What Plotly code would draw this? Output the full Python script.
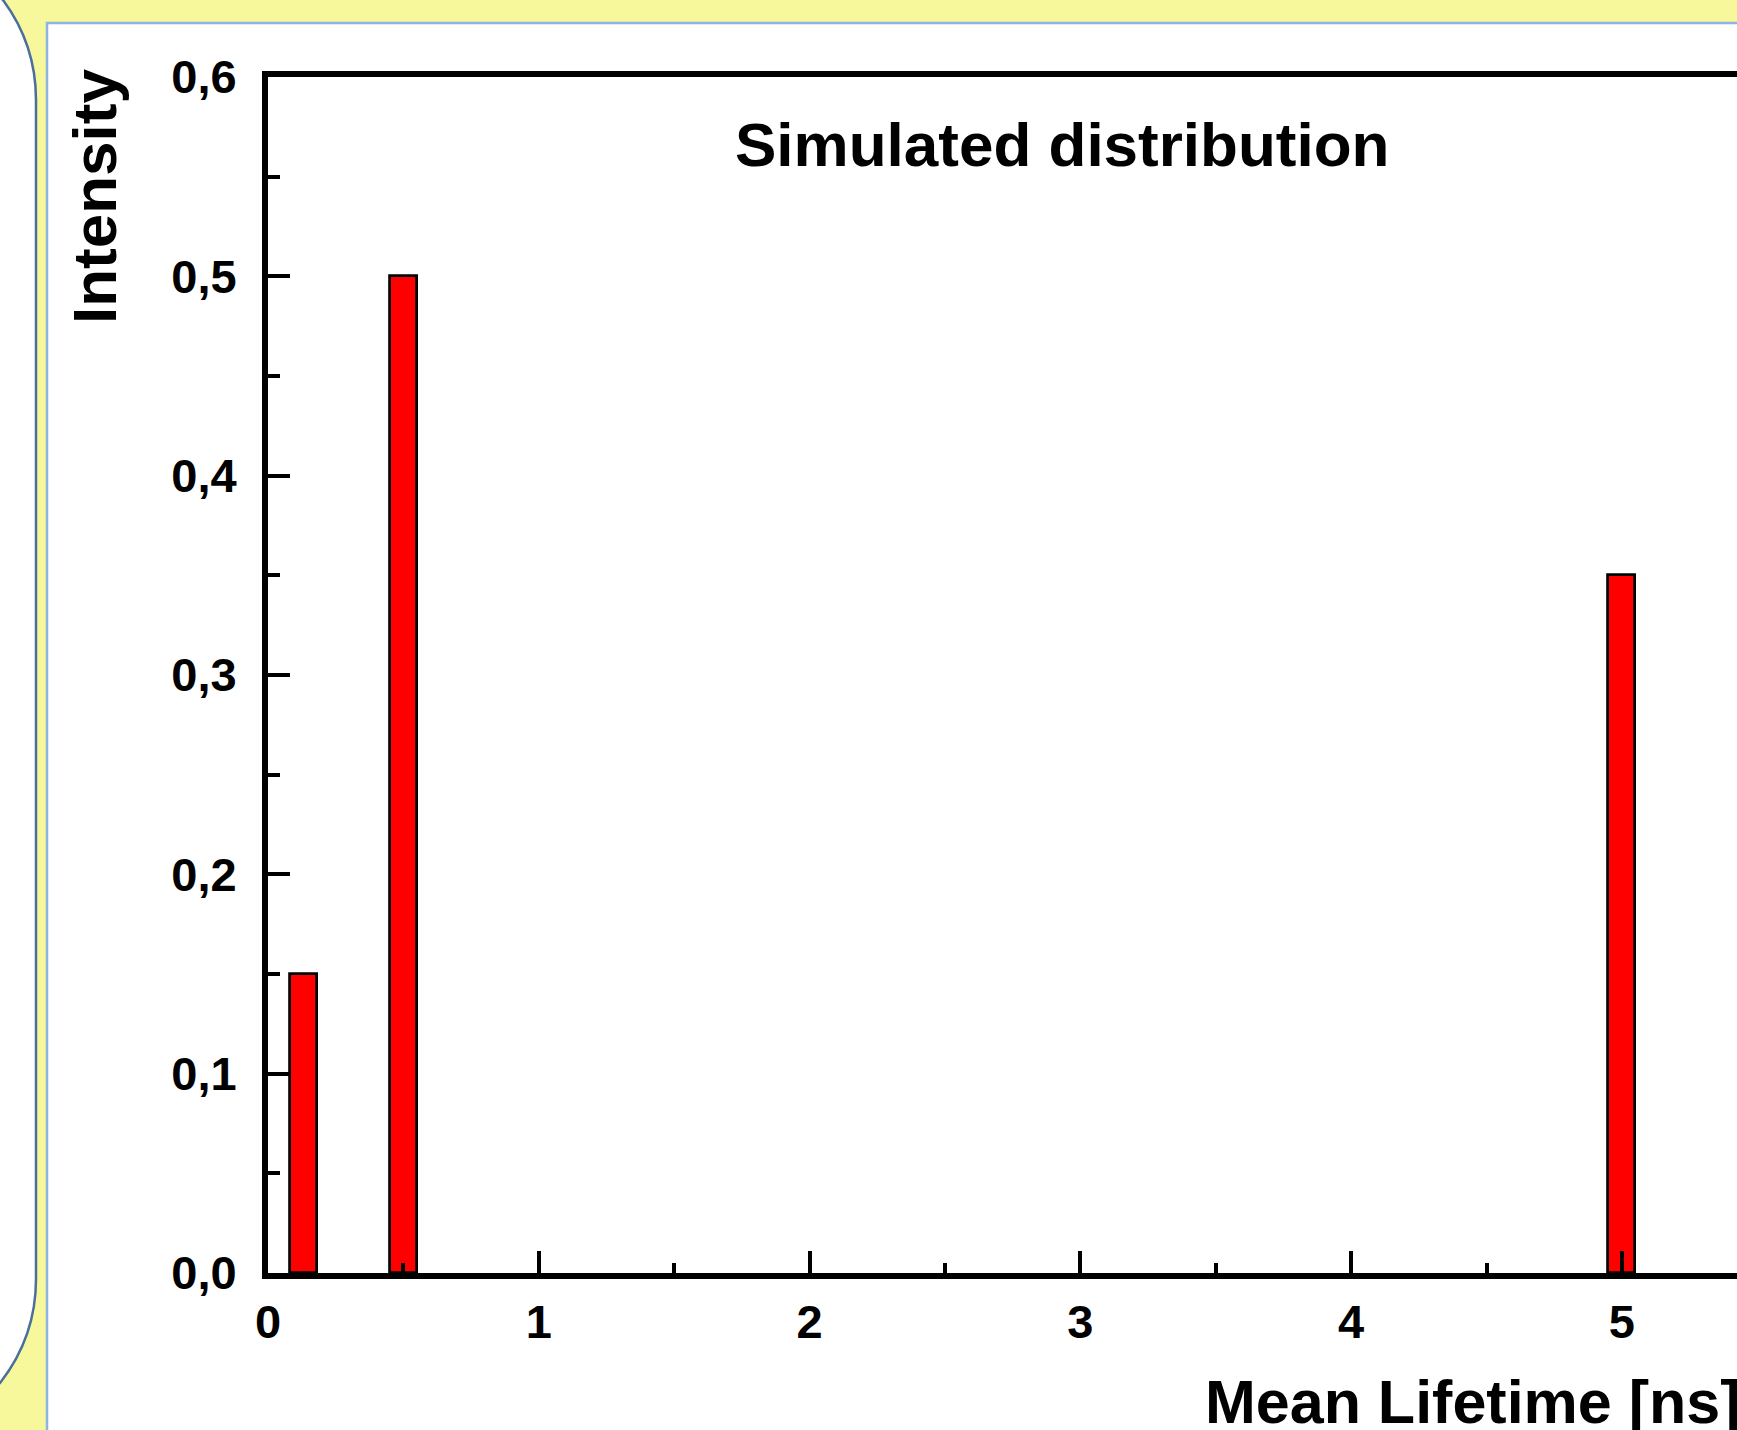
import plotly.graph_objects as go

# ---- data ----
lifetimes = [0.13, 0.5, 5.0]          # ns
intensities = [0.15, 0.5, 0.35]
y_tickvals = [0.0, 0.1, 0.2, 0.3, 0.4, 0.5, 0.6]
y_ticktext = ["0,0", "0,1", "0,2", "0,3", "0,4", "0,5", "0,6"]
x_tickvals = [0, 1, 2, 3, 4, 5]
x_ticktext = ["0", "1", "2", "3", "4", "5"]
title_text = "Simulated distribution"
x_title = "Mean Lifetime [ns]"
y_title = "Intensity"

W, H = 1737, 1430


def X(px):
    return px / W


def Y(py):
    return 1 - py / H


FONT = "Liberation Sans, Arial, sans-serif"

fig = go.Figure()
fig.add_trace(go.Bar(
    x=lifetimes, y=intensities, width=0.1,
    marker=dict(color="#FF0000", line=dict(color="black", width=2.8)),
    showlegend=False,
))

axis_common = dict(
    showline=True, linecolor="black", linewidth=6,
    ticks="inside", tickcolor="black", tickwidth=4, ticklen=22,
    showgrid=False, zeroline=False, automargin=False,
    tickfont=dict(family=FONT, size=47, color="black", weight="bold"),
)

fig.update_layout(
    width=W, height=H, autosize=False,
    margin=dict(l=0, r=0, t=0, b=0, pad=0, autoexpand=False),
    paper_bgcolor="#F7F79B",
    plot_bgcolor="white",
    bargap=0,
    xaxis=dict(
        **axis_common,
        domain=[X(268), 1.0],
        range=[0, 5.425],
        tickvals=x_tickvals, ticktext=x_ticktext,
        mirror=True,
        ticklabelstandoff=3,
        minor=dict(ticks="inside", dtick=0.5, ticklen=10, tickwidth=4, tickcolor="black"),
    ),
    yaxis=dict(
        **axis_common,
        domain=[Y(1273), Y(77)],
        range=[0, 0.6],
        tickvals=y_tickvals, ticktext=y_ticktext,
        ticklabelstandoff=16,
        minor=dict(ticks="inside", dtick=0.05, ticklen=12, tickwidth=4, tickcolor="black"),
    ),
    shapes=[
        dict(type="rect", xref="paper", yref="paper", layer="below",
             x0=X(47), x1=X(1800), y0=Y(23), y1=Y(1500),
             fillcolor="white", line=dict(color="#8DB4E2", width=2.5)),
        dict(type="path", xref="paper", yref="paper", layer="below",
             path=(f"M {X(-30)},{Y(-30)} L {X(3)},{Y(0)} "
                   f"Q {X(36)},{Y(44.5)} {X(36)},{Y(100)} "
                   f"L {X(36)},{Y(1279)} "
                   f"Q {X(36)},{Y(1337)} {X(0)},{Y(1383)} "
                   f"L {X(-30)},{Y(1410)} Z"),
             fillcolor="white", line=dict(color="#4A6F9C", width=2.5)),
    ],
    annotations=[
        dict(text=title_text, xref="paper", yref="paper",
             x=X(1062), y=Y(145), xanchor="center", yanchor="middle",
             showarrow=False,
             font=dict(family=FONT, size=62, color="black", weight="bold")),
        dict(text=y_title, xref="paper", yref="paper", textangle=-90,
             x=X(95), y=Y(197), xanchor="center", yanchor="middle",
             showarrow=False,
             font=dict(family=FONT, size=62, color="black", weight="bold")),
        dict(text=x_title, xref="paper", yref="paper",
             x=X(1203), y=Y(1366), xanchor="left", yanchor="top",
             showarrow=False,
             font=dict(family=FONT, size=61, color="black", weight="bold")),
    ],
)

fig.write_html("out.html")
